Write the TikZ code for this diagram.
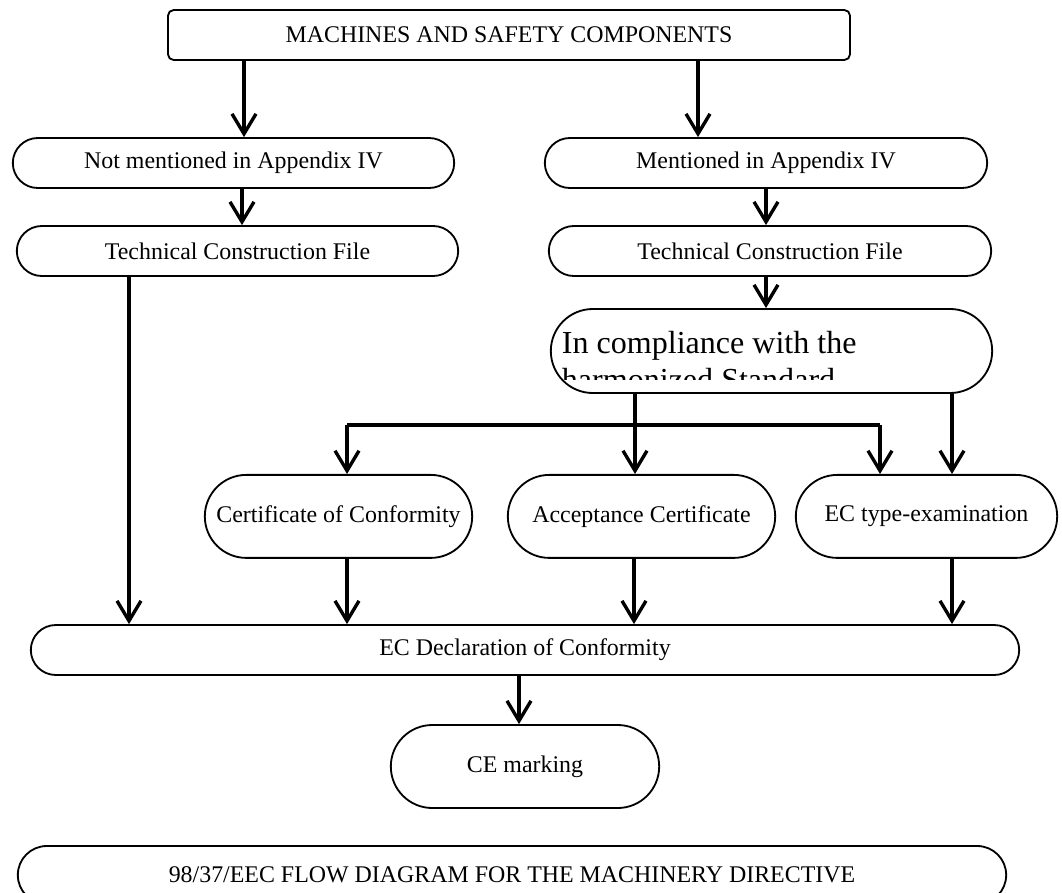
\documentclass[tikz,border=0pt]{standalone}
\usepackage{fontspec}
\setmainfont{Liberation Serif}
\usetikzlibrary{arrows.meta, shapes.misc}
\tikzset{
  every picture/.style={line width=1.3pt},
  pill/.style={draw, rounded rectangle, align=center, inner sep=2pt, font=\fontsize{17}{20}\selectfont},
  box/.style={draw, rounded corners=4pt, align=center, inner sep=2pt, font=\fontsize{17}{20}\selectfont},
  arrow/.style={-{Straight Barb[length=0.5cm, width=0.6cm]}, line width=2.4pt},
  bar/.style={line width=2.6pt},
}

\begin{document}
\begin{tikzpicture}
  \useasboundingbox (0,0) rectangle (26.55,-22.3);
  % top and first branch
  \node[box, minimum width=17.05cm, minimum height=1.25cm] (top) at (12.725,-0.875) {MACHINES AND SAFETY COMPONENTS};
  \node[pill, minimum width=11.175cm, minimum height=1.25cm] (notm) at (5.8375,-4.075) {Not mentioned in Appendix IV};
  \node[pill, minimum width=11.2cm, minimum height=1.25cm] (ment) at (19.15,-4.075) {Mentioned in Appendix IV};
  \node[pill, minimum width=11.175cm, minimum height=1.25cm] (tcfl) at (5.9375,-6.275) {Technical Construction File};
  \node[pill, minimum width=11.2cm, minimum height=1.25cm] (tcfr) at (19.25,-6.275) {Technical Construction File};
  % standard box, text cut at the bottom
  \node[pill, minimum width=11.175cm, minimum height=2.1cm] (comp) at (19.2875,-8.775) {};
  \begin{scope}
    \clip (13.7,-7.725) rectangle (24.875,-9.475);
    \node[anchor=north west, inner sep=0pt, align=left, font=\fontsize{22.8}{26.3}\selectfont] (comptxt) at (14.025,-8.25) {In compliance with the\\harmonized Standard};
  \end{scope}
  % certificates
  \node[pill, minimum width=6.825cm, minimum height=2.075cm] (cert) at (8.4625,-12.91) {Certificate of Conformity};
  \node[pill, minimum width=6.825cm, minimum height=2.075cm] (acc) at (16.0375,-12.91) {Acceptance Certificate};
  \node[pill, minimum width=6.675cm, minimum height=2.075cm] (ect) at (23.1625,-12.91) {EC type-examination};
  % declaration and marking
  \node[pill, minimum width=24.85cm, minimum height=1.25cm] (decl) at (13.125,-16.25) {EC Declaration of Conformity};
  \node[pill, minimum width=6.85cm, minimum height=2.075cm] (ce) at (13.125,-19.1625) {CE marking};
  \node[pill, minimum width=24.85cm, minimum height=1.45cm] (title) at (12.8,-21.875) {98/37/EEC FLOW DIAGRAM FOR THE MACHINERY DIRECTIVE};
  % connectors
  \draw[arrow] ([xshift=0.2625cm]notm.north |- top.south) -- ([xshift=0.2625cm]notm.north);
  \draw[arrow] ([xshift=-1.7cm]ment.north |- top.south) -- ([xshift=-1.7cm]ment.north);
  \draw[arrow] ([xshift=0.2125cm]notm.south) -- ([xshift=0.2125cm]notm.south |- tcfl.north);
  \draw[arrow] (ment.south) -- (ment.south |- tcfr.north);
  \draw[arrow] ([xshift=-0.1cm]tcfr.south) -- ([xshift=-0.1cm]tcfr.south |- comp.north);
  \draw[arrow] ([xshift=-2.7125cm]tcfl.south) -- ([xshift=-2.7125cm]tcfl.south |- decl.north);
  \coordinate (fork) at (0,-10.625);
  \draw[arrow] ([xshift=-0.1625cm]acc.north |- comp.south) -- ([xshift=-0.1625cm]acc.north);
  \draw[bar] ([xshift=0.2125cm]cert.north |- fork) -- ([xshift=-1.1625cm]ect.north |- fork);
  \draw[arrow] ([xshift=0.2125cm]cert.north |- fork) -- ([xshift=0.2125cm]cert.north);
  \draw[arrow] ([xshift=-1.1625cm]ect.north |- fork) -- ([xshift=-1.1625cm]ect.north);
  \draw[arrow] ([xshift=0.6375cm]ect.north |- comp.south) -- ([xshift=0.6375cm]ect.north);
  \draw[arrow] ([xshift=0.2125cm]cert.south) -- ([xshift=0.2125cm]cert.south |- decl.north);
  \draw[arrow] ([xshift=-0.1875cm]acc.south) -- ([xshift=-0.1875cm]acc.south |- decl.north);
  \draw[arrow] ([xshift=0.6375cm]ect.south) -- ([xshift=0.6375cm]ect.south |- decl.north);
  \draw[arrow] ([xshift=-0.15cm]ce.north |- decl.south) -- ([xshift=-0.15cm]ce.north);
\end{tikzpicture}
\end{document}
